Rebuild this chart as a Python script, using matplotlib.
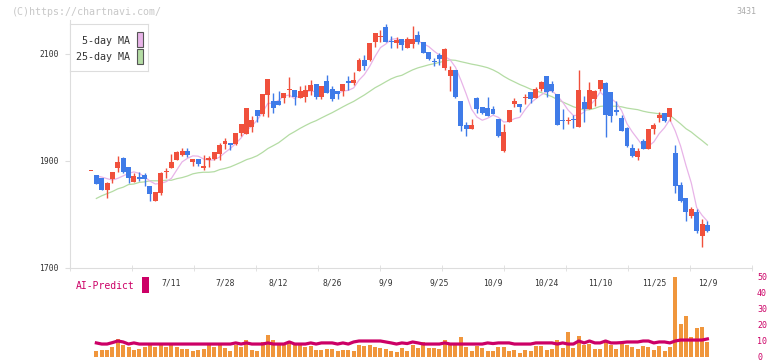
import numpy as np
import pandas as pd
import matplotlib
matplotlib.use('Agg')
import matplotlib.pyplot as plt
from matplotlib.patches import Rectangle

plt.rcParams['font.family'] = ['DejaVu Sans Mono']

# daily prices, 6/20 .. 12/9 (one entry per trading day)
opens = [1882, 1873, 1868, 1846, 1866, 1887, 1906, 1888, 1861, 1871,
         1874, 1853, 1826, 1841, 1880, 1887, 1902, 1911, 1919, 1899,
         1904, 1887, 1902, 1903, 1914, 1932, 1933, 1932, 1952, 1951,
         1964, 1995, 1988, 2024, 2013, 2013, 2018, 2032, 2033, 2018,
         2020, 2031, 2044, 2020, 2050, 2035, 2031, 2031, 2050, 2046,
         2068, 2089, 2088, 2123, 2132, 2150, 2124, 2121, 2128, 2111,
         2118, 2136, 2122, 2103, 2086, 2098, 2073, 2059, 2071, 2012,
         1967, 1960, 2018, 2000, 1999, 1997, 1979, 1919, 1973, 2007,
         2007, 2017, 2029, 2018, 2034, 2059, 2044, 2025, 1976, 1974,
         1978, 1964, 2010, 1997, 2015, 2035, 2046, 2029, 1995, 1980,
         1962, 1924, 1908, 1937, 1923, 1959, 1981, 1990, 1983, 1915,
         1855, 1831, 1798, 1805, 1760, 1780]
highs = [1882, 1874, 1868, 1861, 1879, 1909, 1908, 1888, 1877, 1879,
         1878, 1853, 1842, 1880, 1887, 1914, 1918, 1924, 1924, 1904,
         1904, 1911, 1909, 1916, 1933, 1943, 1933, 1952, 1969, 1999,
         1985, 1995, 2025, 2053, 2028, 2031, 2027, 2057, 2033, 2041,
         2042, 2051, 2044, 2040, 2061, 2041, 2031, 2044, 2058, 2066,
         2093, 2098, 2121, 2139, 2145, 2156, 2133, 2132, 2128, 2132,
         2152, 2143, 2122, 2103, 2092, 2101, 2111, 2078, 2071, 2012,
         1972, 1979, 2020, 2000, 2020, 2002, 1979, 1969, 1995, 2018,
         2007, 2026, 2029, 2038, 2050, 2059, 2050, 2025, 1997, 1982,
         1986, 2070, 2021, 2048, 2033, 2051, 2048, 2029, 2012, 1986,
         1964, 1932, 1924, 1941, 1960, 1971, 1991, 1990, 1999, 1930,
         1861, 1831, 1814, 1810, 1792, 1788]
lows = [1882, 1857, 1845, 1831, 1859, 1880, 1877, 1859, 1861, 1863,
        1853, 1826, 1826, 1837, 1869, 1887, 1901, 1909, 1908, 1891,
        1891, 1883, 1889, 1902, 1902, 1922, 1921, 1930, 1947, 1950,
        1954, 1973, 1984, 1982, 1990, 2004, 2009, 2019, 2005, 2017,
        2011, 2023, 2016, 2016, 2028, 2013, 2016, 2021, 2033, 2042,
        2068, 2070, 2086, 2114, 2123, 2122, 2112, 2112, 2107, 2111,
        2111, 2118, 2102, 2089, 2078, 2080, 2070, 2031, 2018, 1957,
        1947, 1960, 1990, 1988, 1985, 1987, 1944, 1917, 1972, 2000,
        1991, 2006, 2009, 2017, 2031, 2020, 2029, 1968, 1960, 1969,
        1962, 1963, 1973, 1997, 2003, 2031, 1945, 1973, 1986, 1957,
        1926, 1908, 1901, 1923, 1923, 1950, 1973, 1972, 1975, 1841,
        1824, 1788, 1794, 1766, 1740, 1768]
closes = [1882, 1857, 1845, 1859, 1879, 1898, 1880, 1869, 1872, 1866,
          1866, 1839, 1842, 1878, 1881, 1898, 1917, 1918, 1911, 1904,
          1895, 1891, 1906, 1916, 1929, 1937, 1929, 1952, 1969, 1999,
          1977, 1985, 2025, 2053, 1999, 2004, 2027, 2033, 2019, 2031,
          2032, 2042, 2020, 2040, 2028, 2016, 2026, 2044, 2046, 2051,
          2089, 2078, 2121, 2139, 2133, 2122, 2122, 2127, 2116, 2128,
          2128, 2122, 2102, 2090, 2085, 2091, 2109, 2071, 2020, 1966,
          1960, 1967, 1998, 1990, 1985, 1988, 1947, 1954, 1995, 2012,
          2000, 2020, 2015, 2035, 2048, 2029, 2030, 1968, 1975, 1975,
          1977, 2033, 1997, 2032, 2031, 2051, 1986, 1985, 1992, 1957,
          1928, 1909, 1919, 1923, 1960, 1967, 1986, 1975, 1999, 1854,
          1826, 1805, 1810, 1770, 1782, 1770]

# moving averages at the start of the window (they include earlier days)
ma5_head = [1872, 1870, 1867]
ma25_head = [1830, 1835, 1839, 1843, 1848, 1851, 1856, 1857, 1860, 1861,
             1863, 1863, 1863, 1864, 1864, 1867, 1869, 1872, 1876, 1878,
             1879, 1879, 1880]

# lower panel
volume = [0, 4.0, 4.4, 4.4, 6.3, 11.3, 7.5, 6.3, 4.4, 5.0,
          6.3, 7.5, 6.3, 7.5, 6.3, 7.5, 6.3, 5.0, 5.0, 3.8,
          4.4, 5.0, 7.5, 6.3, 7.5, 5.6, 3.8, 7.5, 6.3, 10.6,
          4.4, 3.8, 9.4, 13.8, 10.6, 8.8, 7.5, 10.0, 7.5, 7.5,
          6.3, 6.9, 4.4, 4.4, 5.0, 5.0, 3.8, 4.4, 4.4, 3.8,
          7.5, 6.9, 7.5, 6.3, 5.6, 5.0, 3.8, 3.1, 5.6, 3.8,
          7.5, 5.6, 9.4, 5.6, 5.6, 5.0, 10.6, 7.5, 7.5, 12.5,
          6.3, 3.8, 6.9, 5.6, 3.8, 3.8, 6.3, 6.3, 3.8, 4.4,
          2.5, 4.4, 3.8, 6.9, 6.9, 4.4, 5.0, 10.6, 5.6, 15.6,
          5.6, 13.1, 7.5, 8.1, 5.0, 5.0, 9.4, 7.5, 5.0, 8.1,
          7.5, 6.3, 5.0, 6.9, 6.3, 4.4, 6.9, 3.8, 6.3, 50.0,
          20.6, 25.6, 12.5, 18.1, 18.8, 9.4]
ai_predict = [np.nan, 8.8, 8.1, 8.1, 9.0, 10.0, 9.4, 8.1, 8.8, 8.1,
              8.1, 8.1, 8.1, 8.1, 8.1, 8.1, 8.1, 8.1, 8.1, 8.1,
              8.1, 8.1, 8.1, 8.1, 8.1, 8.1, 8.1, 8.8, 8.1, 8.8,
              8.1, 8.1, 8.1, 8.8, 8.1, 8.1, 8.1, 9.4, 8.1, 8.1,
              8.1, 8.8, 8.1, 8.8, 8.8, 8.8, 8.1, 8.8, 8.1, 9.4,
              10.0, 10.0, 10.0, 10.0, 10.0, 9.4, 8.8, 8.1, 8.8, 8.4,
              9.4, 8.8, 8.1, 8.1, 8.1, 8.1, 8.8, 8.1, 8.1, 8.1,
              8.1, 8.1, 8.1, 8.1, 8.8, 8.4, 8.8, 8.8, 8.8, 8.1,
              8.1, 8.1, 8.1, 8.8, 8.8, 8.8, 8.8, 8.1, 8.8, 8.1,
              8.1, 10.0, 8.8, 10.0, 8.8, 8.8, 10.0, 8.8, 8.8, 9.0,
              9.4, 9.4, 9.4, 10.0, 10.0, 8.8, 9.4, 9.4, 8.8, 10.0,
              10.6, 10.6, 10.6, 10.6, 10.6, 11.3]

date_labels = ['7/11', '7/28', '8/12', '8/26', '9/9', '9/25',
               '10/9', '10/24', '11/10', '11/25', '12/9']
date_index = [15, 25, 35, 45, 55, 65, 75, 85, 95, 105, 115]

RED = '#f0503c'
BLUE = '#3f7be8'
PINK = '#e8b4e8'
GREEN = '#b4dca4'
ORANGE = '#f0963c'
MAGENTA = '#cc0066'
AXIS = '#dddddd'

W, H = 772, 361
fig = plt.figure(figsize=(W / 100, H / 100), dpi=100)


def box(x0, y0, x1, y1):
    # pixel box (top-left origin) -> figure fraction
    return [x0 / W, 1 - y1 / H, (x1 - x0) / W, (y1 - y0) / H]


step = 5.36
x_left = (70 - 91) / step
x_right = (752 - 91) / step

# ---- price panel
ax = fig.add_axes(box(70, 20, 752, 268))
o = np.array(opens, float)
h = np.array(highs, float)
l = np.array(lows, float)
c = np.array(closes, float)
x = np.arange(len(c))
cols = np.where(c >= o, RED, BLUE)

s = pd.Series(c)
ma5 = s.rolling(5).mean().to_numpy()
ma5[1:4] = ma5_head
ma25 = s.rolling(25).mean().to_numpy()
ma25[1:24] = ma25_head
ax.plot(x, ma25, color=GREEN, lw=0.9, zorder=1)
ax.plot(x, ma5, color=PINK, lw=0.9, zorder=1)

ax.vlines(x, l, h, colors=cols, lw=1, zorder=2)
ax.bar(x, np.maximum(np.abs(c - o), 2), 0.92, bottom=np.minimum(o, c),
       color=cols, lw=0, zorder=3)

ax.set_xlim(x_left, x_right)
ax.set_ylim(1700, 1700 + 248 * 200 / 107)
for side in ['top', 'right']:
    ax.spines[side].set_visible(False)
for side in ['left', 'bottom']:
    ax.spines[side].set_color(AXIS)
ax.set_yticks([1700, 1900, 2100])
ax.tick_params(axis='y', length=3.6, color=AXIS, pad=4.3,
               labelsize=5.8, labelcolor='#333333')
ax.set_xticks(date_index)
ax.set_xticklabels(date_labels)
ax.tick_params(axis='x', length=0, pad=7.2, labelsize=5.8,
               labelcolor='#333333')
ax.set_xticks([(px - 91) / step for px in range(70, 753, 62)], minor=True)
ax.tick_params(axis='x', which='minor', direction='inout', length=5,
               color=AXIS)

# legend box
lax = fig.add_axes(box(70, 24, 148, 71))
lax.set_xlim(70, 148)
lax.set_ylim(71, 24)
lax.set_xticks([])
lax.set_yticks([])
for sp in lax.spines.values():
    sp.set_color(AXIS)
lax.text(130, 40.5, '5-day MA', ha='right', va='center', fontsize=7.2,
         color='#333333')
lax.text(130, 56.5, '25-day MA', ha='right', va='center', fontsize=7.2,
         color='#333333')
lax.add_patch(Rectangle((136.5, 31.5), 6, 15, facecolor=PINK,
                        edgecolor='#555555', lw=0.8))
lax.add_patch(Rectangle((136.5, 48.5), 6, 15, facecolor=GREEN,
                        edgecolor='#555555', lw=0.8))

# ---- volume / AI panel
vax = fig.add_axes(box(70, 277, 752, 357))
vax.bar(x, volume, 0.75, color=ORANGE, lw=0)
vax.plot(x, ai_predict, color=MAGENTA, lw=2.3)
vax.set_xlim(x_left, x_right)
vax.set_ylim(0, 50)
vax.set_xticks([])
vax.set_yticks([0, 10, 20, 30, 40, 50])
vax.yaxis.tick_right()
vax.tick_params(axis='y', length=0, pad=3.6, labelsize=6,
                labelcolor=MAGENTA)
for sp in vax.spines.values():
    sp.set_visible(False)
vax.patch.set_alpha(0)

fig.text(76 / W, 1 - 286 / H, 'AI-Predict', color=MAGENTA, fontsize=7,
         va='center', ha='left')
fig.patches.append(Rectangle((142 / W, 1 - 293 / H), 6.5 / W, 16 / H,
                             transform=fig.transFigure, facecolor=MAGENTA,
                             lw=0))

fig.text(12 / W, 1 - 12 / H, '(C)https://chartnavi.com/', color='#c8c8c8',
         fontsize=7.2, va='center', ha='left')
fig.text(756 / W, 1 - 12 / H, '3431', color='#aaaaaa', fontsize=6,
         va='center', ha='right')

fig.savefig('out.png', dpi=100)
